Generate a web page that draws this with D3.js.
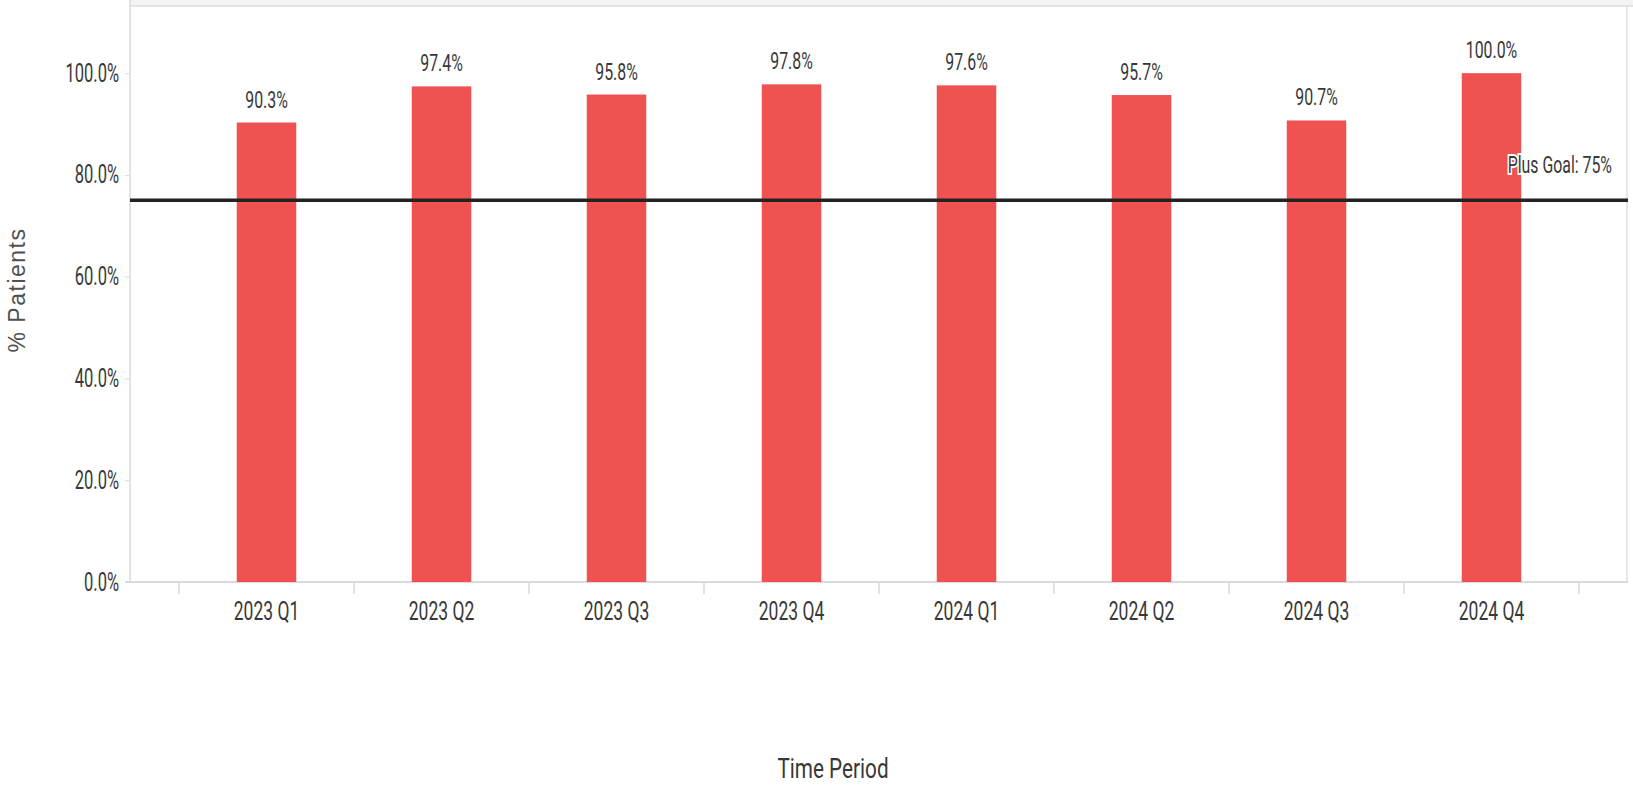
<!DOCTYPE html>
<html>
<head>
<meta charset="utf-8">
<script src="https://cdn.jsdelivr.net/npm/d3@7"></script>
<style>
  body { margin: 0; background: #fff; }
  svg text { font-family: Roboto, sans-serif; fill: #383838; }
</style>
</head>
<body>
<div id="bar-chart"></div>
<script>
const periods = ['2023 Q1', '2023 Q2', '2023 Q3', '2023 Q4', '2024 Q1', '2024 Q2', '2024 Q3', '2024 Q4'];
const pctPatients = [0.903, 0.974, 0.958, 0.978, 0.976, 0.957, 0.907, 1.0];
const yTicks = [0, 0.2, 0.4, 0.6, 0.8, 1.0];
const goalValue = 0.75;
const goalLabel = 'Plus Goal: 75%';
const yMax = 1.13;

createBarChart();

function createBarChart() {
    const width = 1633;
    const height = 785;
    const margin = {top: 7, right: 5, bottom: 203, left: 130};
    const sx = 0.66; // narrow text look

    const svg = d3.select('#bar-chart')
        .append('svg')
            .attr('viewBox', [0, 0, width, height])
            .attr('width', width)
            .attr('height', height);

    const plotRight = width - margin.right;
    const plotBottom = height - margin.bottom;

    const x = d3.scaleBand()
        .domain(periods)
        .range([margin.left + 49, plotRight - 49])
        .paddingInner(0.66)
        .paddingOuter(0.33);

    const y = d3.scaleLinear()
        .domain([0, yMax])
        .range([plotBottom, margin.top]);

    // top strip + frame
    svg.append('rect')
        .attr('x', margin.left).attr('y', 0)
        .attr('width', width - margin.left).attr('height', margin.top - 1)
        .attr('fill', '#f4f4f5');
    svg.append('line')
        .attr('x1', margin.left).attr('x2', width)
        .attr('y1', margin.top - 1).attr('y2', margin.top - 1)
        .attr('stroke', '#e2e3e6').attr('stroke-width', 2);
    svg.append('line')
        .attr('x1', plotRight - 1).attr('x2', plotRight - 1)
        .attr('y1', margin.top).attr('y2', plotBottom)
        .attr('stroke', '#e6e6e8').attr('stroke-width', 2);

    // y axis
    const yAxis = svg.append('g')
        .attr('transform', `translate(${margin.left}, 0)`)
        .call(d3.axisLeft(y).tickValues(yTicks).tickFormat(d3.format('.1%')).tickSize(5).tickSizeOuter(0));
    yAxis.select('.domain').remove();
    yAxis.selectAll('.tick line').attr('stroke', '#d8dae0');
    yAxis.selectAll('.tick text')
        .attr('x', 0)
        .attr('transform', `translate(-11, 0) scale(${sx}, 1)`)
        .attr('font-size', 25)
        .attr('font-family', 'Roboto, sans-serif');
    svg.append('line')
        .attr('x1', margin.left).attr('x2', margin.left)
        .attr('y1', 0).attr('y2', plotBottom)
        .attr('stroke', '#d8dae0').attr('stroke-width', 1.5);

    // x axis
    const xAxis = svg.append('g')
        .attr('transform', `translate(0, ${plotBottom})`)
        .call(d3.axisBottom(x).tickSize(0));
    xAxis.select('.domain').remove();
    xAxis.selectAll('.tick text')
        .attr('y', 38)
        .attr('dy', 0)
        .attr('transform', `scale(${sx + 0.04}, 1)`)
        .attr('font-size', 25)
        .attr('font-family', 'Roboto, sans-serif');
    svg.append('line')
        .attr('x1', margin.left - 5).attr('x2', plotRight)
        .attr('y1', plotBottom).attr('y2', plotBottom)
        .attr('stroke', '#d8dae0').attr('stroke-width', 2);
    svg.append('g')
        .selectAll('line')
        .data(d3.range(periods.length + 1))
        .join('line')
            .attr('x1', i => x.range()[0] + i * x.step())
            .attr('x2', i => x.range()[0] + i * x.step())
            .attr('y1', plotBottom)
            .attr('y2', plotBottom + 12)
            .attr('stroke', '#d8dae0')
            .attr('stroke-width', 1.5);

    // bars
    svg.append('g')
        .selectAll('rect')
        .data(periods)
        .join('rect')
            .attr('x', d => x(d))
            .attr('y', (d, i) => y(pctPatients[i]))
            .attr('width', x.bandwidth())
            .attr('height', (d, i) => plotBottom - y(pctPatients[i]))
            .attr('fill', '#f05252');

    // value labels
    svg.append('g')
        .selectAll('text')
        .data(periods)
        .join('text')
            .attr('text-anchor', 'middle')
            .attr('font-size', 24)
            .attr('transform', (d, i) => `translate(${x(d) + x.bandwidth() / 2}, ${y(pctPatients[i]) - 15}) scale(${sx}, 1)`)
            .text((d, i) => d3.format('.1%')(pctPatients[i]));

    // goal line
    svg.append('line')
        .attr('x1', margin.left).attr('x2', plotRight)
        .attr('y1', y(goalValue)).attr('y2', y(goalValue))
        .attr('stroke', '#222').attr('stroke-width', 3.5);
    svg.append('text')
        .attr('text-anchor', 'end')
        .attr('font-size', 23)
        .attr('transform', `translate(${plotRight - 16}, ${y(goalValue) - 27}) scale(${sx + 0.03}, 1)`)
        .attr('stroke', '#fff').attr('stroke-width', 4)
        .attr('paint-order', 'stroke')
        .text(goalLabel);

    // axis titles
    svg.append('text')
        .attr('text-anchor', 'middle')
        .attr('font-size', 28)
        .attr('transform', 'translate(833, 778) scale(0.74, 1)')
        .text('Time Period');

    svg.append('text')
        .attr('text-anchor', 'middle')
        .attr('font-size', 23)
        .attr('letter-spacing', 1.5)
        .style('font-family', '"Liberation Sans", Arial, sans-serif')
        .style('fill', '#505050')
        .attr('transform', 'translate(25, 290) rotate(-90)')
        .text('% Patients');
}
</script>
</body>
</html>
